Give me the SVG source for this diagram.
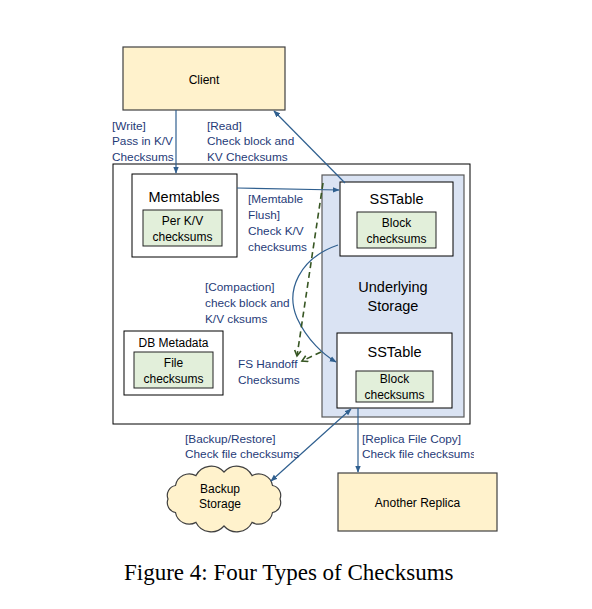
<svg xmlns="http://www.w3.org/2000/svg" width="592" height="609" viewBox="0 0 592 609">
<defs>
<style>
.box{fill:#ffffff;stroke:#000000;stroke-width:1}
.yel{fill:#fff2cc;stroke:#404040;stroke-width:1.2}
.grn{fill:#e2efda;stroke:#222222;stroke-width:1}
.blu{fill:#dae3f3;stroke:#595959;stroke-width:1.2}
.t{font-family:"Liberation Sans",Arial,sans-serif;font-size:12px;fill:#000000;text-anchor:middle}
.big{font-size:14.5px}
.lbl{font-family:"Liberation Sans",Arial,sans-serif;font-size:11.8px;fill:#1f3b78}
.ln{fill:none;stroke:#2f5f8f;stroke-width:1.2}
.dash{fill:none;stroke:#375623;stroke-width:1.6;stroke-dasharray:6,4}
.cap{font-family:"Liberation Serif","Times New Roman",serif;font-size:23px;fill:#000000}
</style>
<marker id="ah" viewBox="0 0 10 10" refX="9" refY="5" markerWidth="7" markerHeight="7" orient="auto-start-reverse" markerUnits="userSpaceOnUse">
<path d="M0,1 L10,5 L0,9 z" fill="#2f5f8f"/>
</marker>
<marker id="gh" viewBox="0 0 10 10" refX="8" refY="5" markerWidth="8" markerHeight="8" orient="auto" markerUnits="userSpaceOnUse">
<path d="M1,1 L8,5 L1,9" fill="none" stroke="#375623" stroke-width="2"/>
</marker>
<clipPath id="clipR"><rect x="0" y="0" width="474" height="609"/></clipPath>
</defs>
<rect width="592" height="609" fill="#ffffff"/>

<g id="outer"><rect class="box" x="113" y="164" width="357" height="260"/></g>

<g id="client"><rect class="yel" x="123" y="47" width="162" height="63"/><text class="t" x="204" y="84">Client</text></g>

<g id="storage"><rect class="blu" x="322" y="175" width="142" height="242"/>
<text class="t big" x="393" y="292">Underlying</text><text class="t big" x="393" y="311">Storage</text></g>

<g id="memtables"><rect class="box" x="132" y="174" width="105" height="83"/>
<text class="t big" x="184" y="202">Memtables</text>
<rect class="grn" x="143" y="210" width="79" height="36"/>
<text class="t" x="182.5" y="225">Per K/V</text><text class="t" x="182.5" y="241">checksums</text></g>

<g id="sstable1"><rect class="box" x="340" y="182" width="113" height="74"/>
<text class="t big" x="396.5" y="204">SSTable</text>
<rect class="grn" x="357" y="212" width="79" height="36"/>
<text class="t" x="396.5" y="227">Block</text><text class="t" x="396.5" y="243">checksums</text></g>

<g id="sstable2"><rect class="box" x="337" y="333" width="115" height="75"/>
<text class="t big" x="394.5" y="357">SSTable</text>
<rect class="grn" x="356" y="371" width="77" height="31"/>
<text class="t" x="394.5" y="383">Block</text><text class="t" x="394.5" y="399">checksums</text></g>

<g id="dbmeta"><rect class="box" x="124" y="331" width="99" height="64"/>
<text class="t" x="173.5" y="347">DB Metadata</text>
<rect class="grn" x="134" y="352" width="79" height="36"/>
<text class="t" x="173.5" y="367">File</text><text class="t" x="173.5" y="383">checksums</text></g>

<g id="replica"><rect class="yel" x="338" y="473" width="159" height="58"/><text class="t" x="417.5" y="507">Another Replica</text></g>

<g id="backup"><path class="yel" d="M168,499 A10,10 0 0 1 175.5,485.5 A14,14 0 0 1 196,475.6 A17,17 0 0 1 224,472 A17,17 0 0 1 252,475.6 A14,14 0 0 1 272.5,485.5 A10,10 0 0 1 280,499 A10,10 0 0 1 272.5,512.5 A14,14 0 0 1 252,522.4 A17,17 0 0 1 224,526 A17,17 0 0 1 196,522.4 A14,14 0 0 1 175.5,512.5 A10,10 0 0 1 168,499 Z"/>
<text class="t" x="220" y="493">Backup</text><text class="t" x="220" y="508">Storage</text></g>

<g id="connectors">
<line class="ln" x1="176" y1="110" x2="176" y2="173" marker-end="url(#ah)"/>
<line class="ln" x1="345" y1="183" x2="274" y2="111" marker-end="url(#ah)"/>
<line class="ln" x1="237" y1="188" x2="339" y2="190" marker-end="url(#ah)"/>
<path class="ln" d="M338,245 C300,258 285,290 297,318 C307,340 324,355 336,362" marker-end="url(#ah)"/>
<line class="dash" x1="323" y1="183" x2="297" y2="356" marker-end="url(#gh)"/>
<line class="dash" x1="321" y1="352" x2="302" y2="361" marker-end="url(#gh)"/>
<line class="ln" x1="351" y1="409" x2="271" y2="481" marker-start="url(#ah)" marker-end="url(#ah)"/>
<line class="ln" x1="358" y1="408" x2="358" y2="472" marker-end="url(#ah)"/>
</g>

<g id="labels">
<text class="lbl" x="112" y="130">[Write]</text>
<text class="lbl" x="112" y="145">Pass in K/V</text>
<text class="lbl" x="112" y="161">Checksums</text>
<text class="lbl" x="207" y="130">[Read]</text>
<text class="lbl" x="207" y="145">Check block and</text>
<text class="lbl" x="207" y="161">KV Checksums</text>
<text class="lbl" x="248" y="203">[Memtable</text>
<text class="lbl" x="248" y="219">Flush]</text>
<text class="lbl" x="248" y="235">Check K/V</text>
<text class="lbl" x="248" y="251">checksums</text>
<text class="lbl" x="205" y="291">[Compaction]</text>
<text class="lbl" x="205" y="307">check block and</text>
<text class="lbl" x="205" y="323">K/V cksums</text>
<text class="lbl" x="238" y="368">FS Handoff</text>
<text class="lbl" x="238" y="384">Checksums</text>
<text class="lbl" x="185" y="443">[Backup/Restore]</text>
<text class="lbl" x="185" y="458">Check file checksums</text>
<g clip-path="url(#clipR)">
<text class="lbl" x="362" y="443">[Replica File Copy]</text>
<text class="lbl" x="362" y="458">Check file checksums</text>
</g>
</g>

<text class="cap" x="124" y="580">Figure 4: Four Types of Checksums</text>
</svg>
